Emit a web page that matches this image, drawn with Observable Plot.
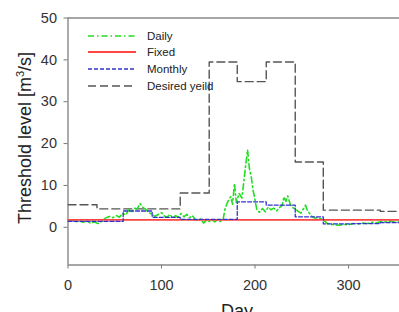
<!DOCTYPE html>
<html><head><meta charset="utf-8">
<script src="https://cdn.jsdelivr.net/npm/d3@7"></script>
<script src="https://cdn.jsdelivr.net/npm/@observablehq/plot@0.6"></script>
<style>
body{margin:0;background:#fff;}
#wrap{position:relative;width:399px;height:312px;overflow:hidden;font-family:"Liberation Sans",Arial,sans-serif;}
#wrap svg{position:absolute;left:0;top:0;}
</style></head><body>
<div id="wrap"></div>
<script>
// Data
const seriesNames = ["Daily", "Fixed", "Monthly", "Desired yeild"];
const dailyDays = [0,4,8,12,16,20,24,28,32,36,40,44,48,52,55,58,62,65,68,71,74,77,80,83,86,90,93,96,100,103,106,109,112,115,118,121,124,127,130,133,136,139,142,145,148,151,154,157,160,163,166,168,171,174,176,178,180,183,186,189,192,194,196,198,200,202,205,208,211,214,217,220,223,226,229,231,233,235,238,241,243,246,249,252,254,256,258,261,264,267,270,273,277,281,285,290,295,300,305,310,315,320,325,330,335,340,345,350,355,360,365];
const dailyValues = [1.5,1.8,1.3,1.6,1.2,1.5,1.0,1.3,0.9,1.4,2.2,2.6,2.3,2.8,2.4,3.3,3.0,4.2,3.6,4.6,4.4,5.7,4.8,4.3,3.6,3.1,2.6,3.0,3.5,2.7,2.4,3.1,2.2,2.8,2.4,3.3,2.5,3.1,2.3,2.8,1.9,1.5,2.0,1.0,1.7,1.4,1.9,1.3,1.8,1.4,2.0,4.5,6.2,7.3,5.5,10.5,6.0,8.1,7.0,12.9,18.5,14.0,12.0,8.8,6.5,4.1,3.6,4.5,3.7,4.8,4.2,4.6,3.9,4.7,5.2,7.3,6.2,7.5,5.3,4.6,4.4,3.8,3.4,4.5,5.3,4.0,3.4,2.6,2.2,2.3,2.1,1.8,1.0,0.7,0.6,0.5,0.7,0.6,0.9,0.8,1.0,0.9,1.2,1.1,1.4,1.3,1.5,1.2,1.3,1.2,1.2];
const monthStarts = [0,31,59,90,120,151,181,212,243,273,304,334,365];
const monthlyValues = [1.4,1.4,3.9,2.4,1.9,1.9,6.1,5.3,2.5,0.8,0.9,1.1,1.1];
const desiredValues = [5.4,4.4,4.4,4.4,8.2,39.5,34.8,39.5,15.6,4.1,4.1,3.8,3.8];
const fixedDays = [0,365];
const fixedValues = [1.8,1.8];
const yTicks = [0,10,20,30,40,50];
const xTicks = [0,100,200,300];
const yDomain = [-9,50];
const xDomain = [0,354.5];

const colors = {"Daily":"#22dd22","Fixed":"#ff4444","Monthly":"#3333cc","Desired yeild":"#555555"};
const dashes = {"Daily":"6,3,1.5,3","Fixed":"none","Monthly":"4,2","Desired yeild":"8,4"};
const widths = {"Daily":1.6,"Fixed":1.8,"Monthly":1.3,"Desired yeild":1.4};

const daily = dailyDays.map((d,i)=>({x:d,y:dailyValues[i]}));
const monthly = monthStarts.map((d,i)=>({x:d,y:monthlyValues[i]}));
const desired = monthStarts.map((d,i)=>({x:d,y:desiredValues[i]}));
const fixed = fixedDays.map((d,i)=>({x:d,y:fixedValues[i]}));

const chart = Plot.plot({
  width:399, height:312,
  marginLeft:67.5, marginRight:0, marginTop:17.5, marginBottom:47.5,
  style:{fontFamily:"Liberation Sans, Arial, sans-serif", background:"#fff"},
  x:{domain:xDomain, ticks:xTicks, label:null},
  y:{domain:yDomain, ticks:yTicks, label:null},
  marks:[
    Plot.axisX({ticks:xTicks, tickSize:4, tickPadding:11, fontSize:14.5, label:null, stroke:"#777", color:"#333"}),
    Plot.axisY({ticks:yTicks, tickSize:4, tickPadding:7, fontSize:14.5, label:null, stroke:"#777", color:"#333"}),
    Plot.ruleY([yDomain[1]], {stroke:"#888", strokeWidth:1.6}),
    Plot.ruleY([yDomain[0]], {stroke:"#888", strokeWidth:1.4}),
    Plot.ruleX([xDomain[0]], {stroke:"#888", strokeWidth:1.4}),
    Plot.line(desired, {x:"x", y:"y", curve:"step-after", stroke:colors["Desired yeild"], strokeDasharray:dashes["Desired yeild"], strokeWidth:widths["Desired yeild"], clip:true}),
    Plot.line(daily, {x:"x", y:"y", stroke:colors["Daily"], strokeDasharray:dashes["Daily"], strokeWidth:widths["Daily"], clip:true}),
    Plot.line(fixed, {x:"x", y:"y", stroke:colors["Fixed"], strokeWidth:widths["Fixed"], clip:true}),
    Plot.line(monthly, {x:"x", y:"y", curve:"step-after", stroke:colors["Monthly"], strokeDasharray:dashes["Monthly"], strokeWidth:widths["Monthly"], clip:true})
  ]
});
const wrap = document.getElementById("wrap");
wrap.appendChild(chart);

// Overlay: legend and axis titles
const ov = d3.select(wrap).append("svg").attr("width",399).attr("height",312)
  .style("font-family","Liberation Sans, Arial, sans-serif").style("overflow","hidden");
const legendY = [36,52,69,86];
seriesNames.forEach((n,i)=>{
  ov.append("line").attr("x1",88).attr("x2",136).attr("y1",legendY[i]).attr("y2",legendY[i])
    .style("stroke",colors[n]).style("stroke-width",widths[n])
    .style("stroke-dasharray",dashes[n]);
  ov.append("text").attr("x",147).attr("y",legendY[i]).attr("dy","0.36em")
    .attr("font-size",11.5).attr("fill","#222").text(n);
});
const yl = ov.append("text").attr("transform","translate(31,138) rotate(-90)")
  .attr("text-anchor","middle").attr("font-size",18).attr("fill","#222");
yl.append("tspan").text("Threshold level [m");
yl.append("tspan").attr("font-size",11).attr("dy","-7").text("3");
yl.append("tspan").attr("dy","7").text("/s]");
ov.append("text").attr("x",237).attr("y",317).attr("text-anchor","middle")
  .attr("font-size",18).attr("fill","#222").text("Day");
</script>
</body></html>
